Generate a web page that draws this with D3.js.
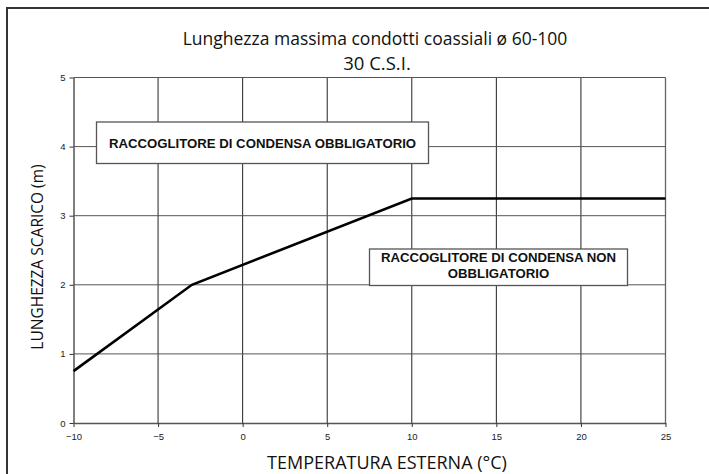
<!DOCTYPE html>
<html><head><meta charset="utf-8">
<script src="https://cdn.jsdelivr.net/npm/d3@7"></script>
<style>body{margin:0;background:#fff}svg{display:block}</style>
</head><body>
<script>
const temps = [-10, -3, 10, 25];
const lengths = [0.75, 2, 3.25, 3.25];
const xTicks = [-10, -5, 0, 5, 10, 15, 20, 25];
const yTicks = [0, 1, 2, 3, 4, 5];
const title1 = "Lunghezza massima condotti coassiali ø 60-100";
const title2 = "30 C.S.I.";
const xTitle = "TEMPERATURA ESTERNA (°C)";
const yTitle = "LUNGHEZZA SCARICO (m)";
const label1 = ["RACCOGLITORE DI CONDENSA OBBLIGATORIO"];
const label2 = ["RACCOGLITORE DI CONDENSA NON", "OBBLIGATORIO"];

const W = 709, H = 474;
const svg = d3.select("body").append("svg").attr("width", W).attr("height", H);

// outer frame
svg.append("rect").attr("x", 7).attr("y", 8).attr("width", 720).attr("height", 480)
  .attr("fill", "none").attr("stroke", "#333").attr("stroke-width", 2);

const x = d3.scaleLinear().domain([-10, 25]).range([73.5, 665.5]);
const y = d3.scaleLinear().domain([0, 5]).range([423, 77.5]);

const g = svg.append("g");
// grid
g.selectAll(".vg").data(xTicks.slice(1)).join("line")
  .attr("x1", d => x(d)).attr("x2", d => x(d)).attr("y1", y(5)).attr("y2", y(0))
  .attr("stroke", d => d === 25 ? "#666" : "#222").attr("stroke-width", d => d === 25 ? 1.3 : 1);
g.selectAll(".hg").data(yTicks.slice(1)).join("line")
  .attr("x1", x(-10)).attr("x2", x(25)).attr("y1", d => y(d)).attr("y2", d => y(d))
  .attr("stroke", "#555").attr("stroke-width", 1);

// axes
const xAxis = d3.axisBottom(x).tickValues(xTicks).tickSize(4).tickSizeOuter(0).tickFormat(d3.format("d"));
const yAxis = d3.axisLeft(y).tickValues(yTicks).tickSize(4).tickSizeOuter(0).tickFormat(d3.format("d"));
const gx = svg.append("g").attr("transform", `translate(0,${y(0)})`).call(xAxis);
const gy = svg.append("g").attr("transform", `translate(${x(-10)},0)`).call(yAxis);
[gx, gy].forEach(a => {
  a.select(".domain").attr("stroke", "#555").attr("stroke-width", 1.5);
  a.selectAll(".tick line").attr("stroke", "#333");
  a.selectAll(".tick text").attr("font-family", "Liberation Sans, Arial, sans-serif")
    .attr("font-size", 9.5).attr("fill", "#222");
});
gx.selectAll(".tick text").attr("dy", "1.1em");
gy.selectAll(".tick text").attr("dx", "-1px");

// line
const line = d3.line().x((d, i) => x(temps[i])).y((d, i) => y(lengths[i]));
svg.append("path").datum(lengths).attr("d", line)
  .attr("fill", "none").attr("stroke", "#000").attr("stroke-width", 2.6).attr("stroke-linejoin", "miter");

// labels boxes
function box(x0, y0, x1, y1, lines, lineYs) {
  svg.append("rect").attr("x", x0).attr("y", y0).attr("width", x1 - x0).attr("height", y1 - y0)
    .attr("fill", "#fff").attr("stroke", "#555").attr("stroke-width", 1.3);
  lines.forEach((t, i) => {
    svg.append("text").attr("x", (x0 + x1) / 2).attr("y", lineYs[i]).attr("text-anchor", "middle")
      .attr("font-family", "Liberation Sans, Arial, sans-serif").attr("font-weight", "bold")
      .attr("font-size", 13.2).attr("fill", "#111").text(t);
  });
}
box(96.5, 122, 428.5, 163.5, label1, [148]);
box(369.5, 249, 627.5, 285.5, label2, [262, 278]);

// titles
const ff = "Open Sans, Noto Sans, sans-serif";
svg.append("text").attr("x", 375).attr("y", 45).attr("text-anchor", "middle")
  .attr("font-family", ff).attr("font-size", 17.5).attr("fill", "#111").text(title1);
svg.append("text").attr("x", 377).attr("y", 70).attr("text-anchor", "middle")
  .attr("font-family", ff).attr("font-size", 18.5).attr("fill", "#111").text(title2);
svg.append("text").attr("x", 387).attr("y", 469).attr("text-anchor", "middle")
  .attr("font-family", ff).attr("font-size", 18).attr("fill", "#111").text(xTitle);
svg.append("text").attr("transform", "translate(43,257) rotate(-90)").attr("text-anchor", "middle")
  .attr("font-family", ff).attr("font-size", 15.5).attr("fill", "#111").text(yTitle);
</script>
</body></html>
